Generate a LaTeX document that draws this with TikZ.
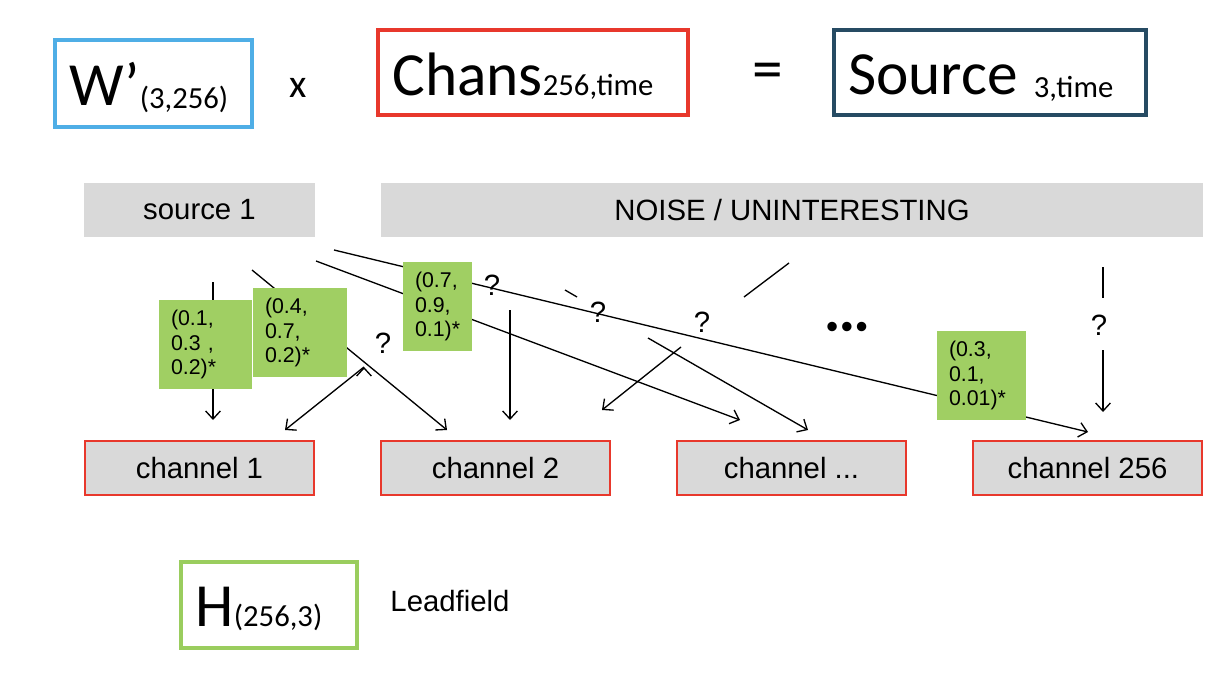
\documentclass[tikz,border=0pt]{standalone}
\usepackage{fontspec}
\setmainfont{Liberation Sans}
\newfontfamily\calfont{Carlito}
\usetikzlibrary{calc,chains,arrows.meta}

\definecolor{wblue}{HTML}{4FAEE6}
\definecolor{chred}{HTML}{E8382C}
\definecolor{srcblue}{HTML}{264B63}
\definecolor{lfgreen}{HTML}{9ACD5E}
\definecolor{wtgreen}{HTML}{A0CF63}
\definecolor{bargray}{HTML}{D9D9D9}
\newcommand\bigtxt{\calfont\fontsize{46}{46}\selectfont}
\newcommand\subtxt{\calfont\fontsize{23}{23}\selectfont}

\begin{document}
\begin{tikzpicture}[x=0.75pt,y=-0.75pt,
  formula/.style={draw,line width=3pt,align=left,inner xsep=11pt,inner ysep=0pt,text depth=0pt},
  bar/.style={fill=bargray,minimum height=40.5pt,inner sep=0pt,font=\fontsize{22}{26}\selectfont},
  chan/.style={bar,draw=chred,line width=1.5pt,minimum width=171.75pt},
  weight/.style={fill=wtgreen,align=left,inner xsep=9pt,inner ysep=0pt,
    minimum height=66.75pt,font=\fontsize{16}{18.5}\selectfont},
  ask/.style={font=\fontsize{22}{22}\selectfont,inner sep=0pt},
  ]
  \useasboundingbox (0,0) rectangle (1230,684);
  \node[formula,draw=wblue,text width=126pt,text height=33pt,minimum height=65pt] (wmat) at (153.5,83.5)
    {\bigtxt W’\raisebox{-2pt}{\subtxt(3,256)}};
  \node[font=\calfont\fontsize{30}{30}\selectfont] (times) at (298,88) {x};
  \node[formula,draw=chred,text width=211pt,text height=34pt,minimum height=64pt] (chans) at (533,72.5)
    {\bigtxt Chans\subtxt 256,time};
  \node[font=\bigtxt] (equals) at (768,76) {=};
  \node[formula,draw=srcblue,text width=212pt,text height=33pt,minimum height=64pt] (source) at (989.5,72.5)
    {\bigtxt Source\hspace{12pt}\raisebox{-2pt}{\subtxt 3,time}};

  \node[bar,minimum width=173.25pt] (src1) at (199.5,210) {source 1};
  \node[bar,minimum width=616.5pt] (noise) at (792,210) {NOISE / UNINTERESTING};
  \begin{scope}[
    start chain=going right,
    node distance=48.75pt,
    every node/.style={chan,on chain},
    ]
    \node (ch1) at (199.5,468) {channel 1};
    \node (ch2) {channel 2};
    \node (chx) {channel ...};
    \node (ch256) {channel 256};
  \end{scope}

  \coordinate (a1) at (213,282);   \coordinate (b1) at (213,420);
  \coordinate (a2) at (252,270);   \coordinate (b2) at (447,430);
  \coordinate (a3) at (316,261);   \coordinate (b3) at (740,420);
  \coordinate (a4) at (334,250);   \coordinate (b4) at (1088,432);
  \coordinate (a5) at (565,290);   \coordinate (b5) at (577,297);
  \coordinate (a6) at (510,310);   \coordinate (b6) at (510,420);
  \coordinate (a7) at (789,263);   \coordinate (b7) at (744,297);
  \coordinate (a8) at (681,347);   \coordinate (b8) at (602,410);
  \coordinate (a9) at (648,338);   \coordinate (b9) at (808,430);
  \coordinate (a10) at (1103,267); \coordinate (m10) at (1103,298);
  \coordinate (n10) at (1103,350); \coordinate (b10) at (1103,412);
  \coordinate (a11) at (364,367);  \coordinate (b11) at (285,430);
  \begin{scope}[
    every path/.style={draw,line width=1pt},
    >={Straight Barb[length=6pt,width=11pt]},
    ]
    \path[->]
    (a1)  edge    (b1)
    (a2)  edge    (b2)
    (a3)  edge    (b3)
    (a4)  edge    (b4)
    (a5)  edge[-] (b5)
    (a6)  edge    (b6)
    (a7)  edge[-] (b7)
    (a8)  edge    (b8)
    (a9)  edge    (b9)
    (a10) edge[-] (m10)
    (n10) edge    (b10)
    (a11) edge    (b11);
  \end{scope}

  \node[weight,text width=51.75pt] (w1) at (205.5,344.5) {(0.1,\\0.3 ,\\0.2)*};
  \node[weight,text width=52.5pt] (w2) at (300,332.5) {(0.4,\\0.7,\\0.2)*};
  \node[weight,text width=33.75pt] (w3) at (437.5,306.5) {(0.7,\\0.9,\\0.1)*};
  \node[weight,text width=48.75pt] (w4) at (981.5,375.5) {(0.3,\\0.1,\\0.01)*};

  \node[ask] (q1) at (383,343) {?};
  \node[ask] (q2) at (492,285) {?};
  \node[ask] (q3) at (598,312) {?};
  \node[ask] (q4) at (702,322) {?};
  \node[ask] (q5) at (1099,325) {?};
  \node[font=\fontsize{26}{26}\selectfont] (more) at (847,330) {•\kern2pt•\kern2pt•};

  \node[formula,draw=lfgreen,text width=110pt,text height=32pt,minimum height=65pt] (hmat) at (269,605)
    {\bigtxt H\subtxt(256,3)};
  \node[font=\fontsize{22}{26}\selectfont] (lead) at (450,601) {Leadfield};
\end{tikzpicture}
\end{document}
